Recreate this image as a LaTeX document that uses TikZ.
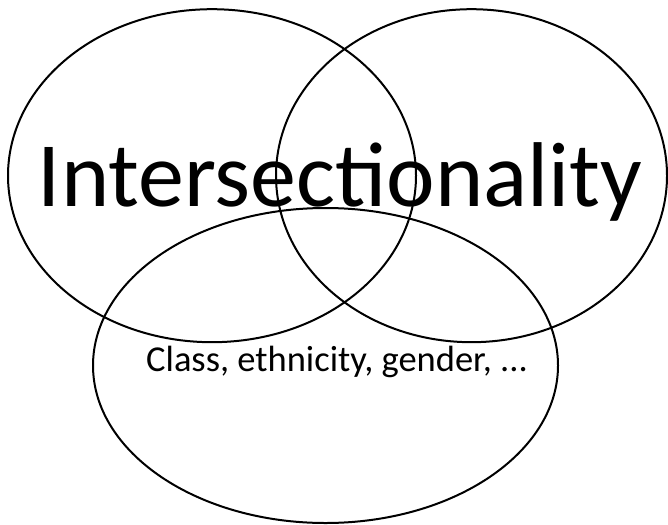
\documentclass[tikz,border=0pt]{standalone}
\usepackage{fontspec}
\setmainfont{Carlito}
\usepackage{tikz}
\usetikzlibrary{shapes.geometric}

\begin{document}
\begin{tikzpicture}[
    x=1pt, y=-1pt,
    set/.style={draw, ellipse, line width=2pt, inner sep=0pt},
    title/.style={anchor=base, inner sep=0pt, font=\fontsize{92}{92}\selectfont},
    caption/.style={anchor=base, inner sep=0pt, font=\fontsize{36.5}{36.5}\selectfont}
  ]
    \useasboundingbox (0,0) rectangle (668,524);
    \node[set, minimum width=408pt, minimum height=333pt] (left) at (212,175.7) {};
    \node[set, minimum width=391pt, minimum height=333pt] (right) at (471.5,175.7) {};
    \node[set, minimum width=465pt, minimum height=315pt] (bottom) at (325.5,365.5) {};
    \node[title] (name) at (340,206) {Intersectionality};
    \node[caption] (axes) at (337,371) {Class, ethnicity, gender, ...};
  \end{tikzpicture}
\end{document}
